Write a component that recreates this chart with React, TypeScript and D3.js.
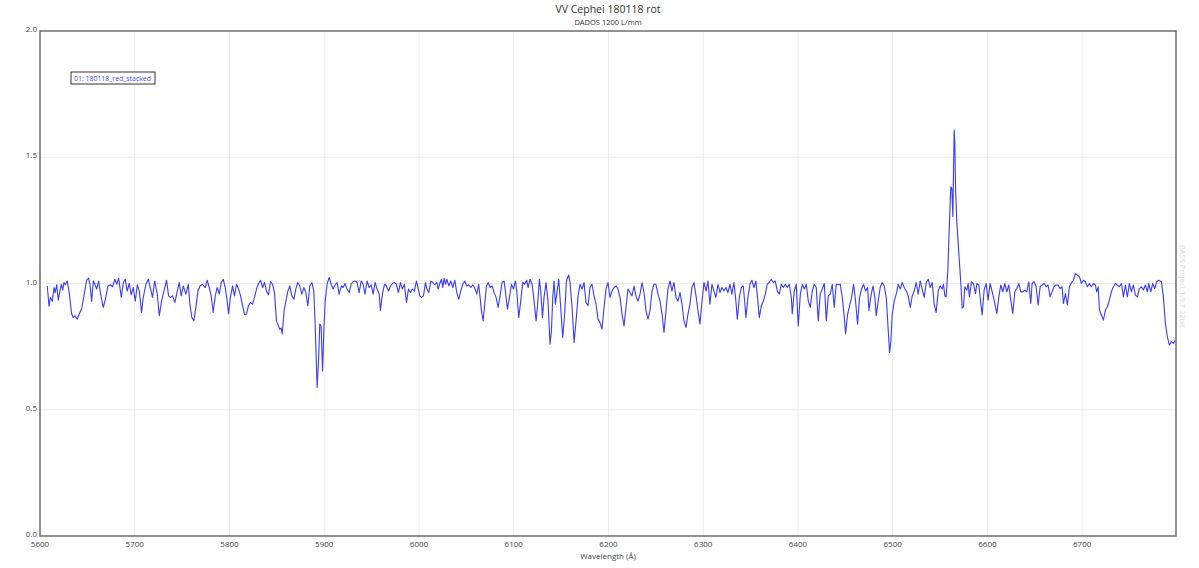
import * as d3 from 'd3';
import { useRef, useEffect } from 'react';

// spectrum: wavelength (Å) and relative flux
const wavelength: number[] = [
  5607.7, 5609.5, 5611, 5613, 5614.8, 5616, 5617.6, 5619.3, 5621, 5622.5, 5624, 5625.3, 5626.7, 5628.8, 5631, 5633.4, 5635, 5637, 5639.4, 5641.5,
  5644, 5646.4, 5649.2, 5651.3, 5652.7, 5654.5, 5656.3, 5658, 5659.8, 5661.9, 5664, 5666.8, 5669, 5671.7, 5674.5, 5676.6, 5679, 5681, 5683, 5684.4,
  5685.8, 5688, 5690, 5692, 5694.2, 5696.3, 5698.4, 5700.6, 5702.7, 5704.8, 5707.2, 5709, 5711.8, 5714.3, 5716, 5718.8, 5721, 5723.8, 5725.9, 5728.3,
  5730.8, 5733.6, 5735.7, 5737.8, 5740, 5742.4, 5744.9, 5747, 5749, 5751.2, 5754, 5756.5, 5758.2, 5760.3, 5762.4, 5764.5, 5766.7, 5768.8, 5771.6, 5774.4,
  5776.5, 5778.6, 5780.7, 5782.8, 5785, 5787, 5789.2, 5791.3, 5793.4, 5795.5, 5797.6, 5799, 5801, 5803.2, 5805.3, 5807.4, 5809.6, 5811.7, 5813.8, 5816,
  5818, 5820, 5822, 5824.3, 5826.4, 5828.5, 5830.6, 5832.8, 5835, 5837, 5839, 5841.2, 5843.3, 5845.4, 5847.5, 5849.6, 5851.7, 5853, 5854.6, 5855.6,
  5857.7, 5859.5, 5861.6, 5863.7, 5865.8, 5868, 5870, 5872, 5874.2, 5876.4, 5878.5, 5880.6, 5882.7, 5884.8, 5887, 5889, 5890.4, 5892.5, 5894, 5895.3,
  5896.7, 5898.2, 5899.6, 5901, 5903, 5905.2, 5907.3, 5909.4, 5911.5, 5913.6, 5915.7, 5918, 5920, 5922, 5924, 5926.3, 5928.4, 5930.5, 5932.6, 5934.7,
  5936.8, 5939, 5941, 5943, 5945.3, 5947.4, 5949.5, 5951.6, 5953.7, 5955.8, 5958, 5959.3, 5961.4, 5963.6, 5965.7, 5967.8, 5970, 5972, 5974, 5976.2,
  5978.3, 5980.4, 5982.5, 5984.6, 5986.8, 5988.9, 5991, 5993, 5995.2, 5997.3,
  6000.9, 6002.6, 6004.7, 6006.9, 6008.3, 6010.4, 6012.5, 6014.6, 6016.7, 6018.8, 6020.2, 6022.3, 6023.7, 6025.1, 6026.5, 6028, 6029.4, 6031.5, 6033.6, 6035.7,
  6037.8, 6039.9, 6042, 6044.1, 6046.2, 6048.3, 6050.4, 6052.6, 6054.7, 6056.8, 6058.9, 6061, 6063, 6064.5, 6065.9, 6067.7, 6069.4, 6071.2, 6073, 6075,
  6077.2, 6079.3, 6081.4, 6083.5, 6085.6, 6087.7, 6089.8, 6091.2, 6093.3, 6095.5, 6097.6, 6099.7, 6101.8, 6103.2, 6105.3, 6107.4, 6109.5, 6111.6, 6113.7, 6115.2,
  6117.3, 6119.4, 6121.5, 6123.6, 6125, 6127.1, 6128.5, 6130.3, 6132, 6134.1, 6136.2, 6138.3, 6139.8, 6141.2, 6142.6, 6144, 6145.4, 6147.5, 6149.6, 6151.7,
  6153.8, 6155.6, 6158, 6159.4, 6161.6, 6163.7, 6165.8, 6167.9, 6170, 6172.1, 6174.2, 6176.3, 6178.4, 6180.5, 6182.6, 6184.8, 6186.9, 6189, 6191, 6193.2,
  6195.3, 6197.4, 6199.5, 6201.6, 6203.7, 6205.9, 6208, 6210, 6212.2, 6214.3, 6216.4, 6218.5, 6220.6, 6222.7, 6224.8, 6227, 6229, 6231.2, 6233.3, 6235.4,
  6237.5, 6239.6, 6241.7, 6243.8, 6246, 6248, 6250, 6252.3, 6254.4, 6256.5, 6258.6, 6260.7, 6262.8, 6265, 6267, 6269.1, 6271.3, 6273.4, 6275.5, 6277.6,
  6279.7, 6281.8, 6283.9, 6286, 6288.1, 6290.3, 6292.4, 6294.5, 6296.6, 6298.7, 6300.8, 6303, 6305, 6307.1, 6309.2, 6311.3, 6313.4, 6315.6, 6317.7, 6319.8,
  6321.9, 6324, 6326, 6328.2, 6330.3, 6332.4, 6334.5, 6336, 6338.1, 6340.2, 6342.3, 6343.7, 6345.1, 6347.2, 6349.3, 6351.4, 6353.5, 6355.6, 6357.7, 6359.2,
  6361.3, 6363.4, 6365.5, 6367.6, 6369.6, 6371.8, 6374, 6376, 6378.2, 6380.3, 6382.4, 6384.5, 6386.6, 6388.7, 6390.8, 6393,
  6394, 6396.1, 6398.2, 6400.3, 6402.5, 6404.6, 6406.7, 6408.8, 6410.9, 6413, 6415.1, 6417.2, 6419.3, 6421.4, 6423.5, 6425.7, 6427.8, 6429.9, 6432, 6434.1,
  6436.2, 6438.3, 6440.4, 6442.5, 6444.6, 6446.8, 6448.9, 6450.3, 6452.4, 6454.5, 6456.6, 6458.7, 6460.8, 6462.9, 6465, 6467.1, 6469.2, 6471.4, 6473.5, 6474.9,
  6477, 6479.1, 6481.2, 6482.6, 6484.7, 6486.8, 6488.9, 6491, 6493.2, 6495.3, 6496.7, 6498.1, 6499.5, 6501.6, 6503.7, 6505.8, 6508, 6510, 6512.2, 6514.3,
  6516.4, 6518.5, 6520.6, 6522.7, 6524.8, 6526.9, 6529, 6531.1, 6533.2, 6535.4, 6537.5, 6539.6, 6541.7, 6543.8, 6545.9, 6548, 6550.1, 6552.2, 6553.6, 6555,
  6556.4, 6558.2, 6560, 6561.3, 6562.4, 6563.5, 6564.2, 6564.9, 6565.6, 6566.3, 6567.7, 6569.1, 6570.5, 6571.9, 6573.3, 6574.7, 6576.1, 6578.2, 6579.6, 6581,
  6583.1, 6585.2, 6587.4, 6588.8, 6590.9, 6593, 6594.4, 6596.5, 6598.6, 6600.7, 6602.8, 6605, 6607, 6609.9, 6612, 6614.1, 6616.2, 6618.3, 6620.4, 6622.5,
  6624.6, 6626.7, 6628.9, 6631, 6633.1, 6635.2, 6637.3, 6639.4, 6641.5, 6643.6, 6645.7, 6647.1, 6649.2, 6651.4, 6653.5, 6655.6, 6657.7, 6659.8, 6661.9, 6664,
  6666.1, 6668.2, 6670.3, 6672.4, 6674.6, 6676.7, 6678.8, 6680.2, 6682.3, 6684.4, 6686.5, 6688.6, 6690.7, 6692.8, 6694.9, 6697.1, 6699.2, 6701.3, 6703.4, 6705.5,
  6707.6, 6709.7, 6711.8, 6713.9, 6715.3, 6716.8, 6718.2, 6720.3, 6722.4, 6724.5, 6726.6, 6728.7, 6730.8, 6732.9, 6735, 6737.1, 6739.3, 6741.4, 6743.5, 6745.6,
  6747.7, 6749.8, 6751.9, 6754, 6756.1, 6758.2, 6760.3, 6762.5, 6764.6, 6766.7, 6768.8, 6770.2, 6772.3, 6774.4, 6776.5, 6778.6, 6780.7, 6783.6, 6785.7, 6787.8,
  6789.9, 6792, 6794.1, 6796.2, 6798.3,
];

const flux: number[] = [
  0.99, 0.91, 0.945, 0.93, 0.984, 0.964, 0.995, 0.934, 0.97, 0.997, 0.974, 1.004, 0.995, 1.01, 0.958, 0.88, 0.865, 0.872, 0.859, 0.88,
  0.90, 0.951, 1.013, 1.021, 0.997, 0.929, 1.01, 0.997, 0.978, 1.01, 0.958, 0.905, 0.938, 0.99, 0.995, 0.987, 1.017, 0.997, 1.021, 0.984,
  0.945, 1.004, 1.017, 0.97, 1.0, 0.955, 0.984, 0.93, 0.995, 0.97, 0.885, 0.945, 0.997, 1.017, 0.99, 0.945, 1.01, 0.958, 0.872, 0.93,
  0.97, 1.013, 0.951, 0.945, 0.951, 0.925, 0.97, 1.004, 0.951, 0.99, 0.958, 0.997, 0.918, 0.865, 0.852, 0.905, 0.97, 0.99, 0.997, 0.984,
  1.013, 0.984, 0.951, 0.885, 0.951, 0.984, 0.958, 1.004, 1.017, 0.984, 0.93, 0.879, 0.945, 0.99, 0.951, 0.997, 0.978, 0.951, 0.912, 0.876,
  0.879, 0.912, 0.925, 0.918, 0.945, 0.978, 1.0, 1.013, 0.984, 1.004, 0.97, 0.955, 1.008, 0.997, 0.964, 0.852, 0.832, 0.819, 0.823, 0.80,
  0.892, 0.93, 0.97, 0.99, 0.951, 0.938, 0.978, 1.004, 0.99, 0.958, 0.984, 0.964, 0.912, 0.99, 1.004, 0.97, 0.839, 0.588, 0.694, 0.839,
  0.832, 0.654, 0.813, 0.93, 0.997, 1.024, 0.997, 0.978, 0.995, 1.004, 0.958, 0.99, 0.984, 1.0, 0.978, 0.964, 0.997, 1.008, 1.01, 1.004,
  0.964, 1.01, 0.997, 0.958, 1.01, 0.984, 0.995, 0.958, 1.004, 0.978, 0.958, 0.892, 0.958, 0.997, 0.99, 0.97, 0.99, 1.0, 1.004, 0.997,
  0.964, 1.004, 0.978, 0.997, 0.925, 0.978, 0.964, 0.978, 0.97, 1.01,
  0.951, 0.945, 0.951, 1.004, 0.978, 0.964, 1.01, 1.004, 0.995, 1.004, 0.978, 1.004, 1.017, 0.984, 1.021, 0.997, 1.017, 0.99, 1.01, 0.984,
  1.013, 0.964, 0.938, 0.97, 0.997, 1.01, 0.99, 0.995, 0.984, 0.995, 0.982, 0.958, 0.997, 0.945, 0.892, 0.852, 0.918, 0.99, 1.004, 0.984,
  0.99, 0.964, 0.945, 0.905, 0.951, 1.004, 1.01, 0.97, 0.898, 0.945, 0.997, 0.978, 1.01, 0.97, 0.865, 0.93, 1.004, 0.997, 1.013, 0.984,
  1.017, 0.997, 0.93, 0.852, 0.905, 1.017, 0.97, 0.865, 0.945, 1.004, 0.93, 0.76, 0.813, 0.945, 1.01, 0.918, 0.958, 1.017, 0.905, 0.786,
  0.879, 1.01, 1.034, 1.004, 0.905, 0.766, 0.852, 0.951, 0.997, 0.978, 1.004, 0.925, 0.912, 0.984, 0.997, 0.951, 0.918, 0.859, 0.846, 0.819,
  0.905, 0.978, 1.004, 0.945, 0.97, 0.984, 0.99, 0.978, 0.945, 0.879, 0.832, 0.905, 0.978, 0.964, 0.951, 0.99, 0.951, 0.93, 0.958, 1.004,
  0.964, 0.892, 0.859, 0.892, 0.97, 0.997, 0.997, 0.958, 0.93, 0.879, 0.806, 0.892, 0.978, 1.01, 0.97, 1.004, 0.945, 0.93, 0.964, 0.918,
  0.852, 0.826, 0.879, 0.918, 0.984, 1.004, 0.951, 0.892, 0.839, 0.93, 1.004, 0.97, 1.01, 0.918, 0.997, 0.97, 0.945, 0.997, 0.964, 0.984,
  0.97, 0.984, 0.964, 0.997, 0.958, 1.004, 0.93, 0.859, 0.945, 0.984, 0.99, 0.93, 0.865, 0.945, 0.997, 1.013, 0.984, 1.01, 0.93, 0.865,
  0.912, 0.93, 0.958, 0.997, 1.004, 1.017, 1.004, 1.01, 0.97, 0.958, 0.997, 0.984, 0.997, 0.984, 0.997, 0.945,
  0.879, 0.97, 0.997, 0.832, 0.958, 0.997, 0.978, 0.997, 0.93, 0.905, 0.97, 0.997, 0.984, 0.852, 0.958, 0.978, 1.0, 0.852, 0.951, 0.958,
  0.997, 0.905, 0.997, 0.995, 0.997, 0.945, 0.865, 0.80, 0.879, 0.912, 0.945, 0.997, 0.93, 0.839, 0.945, 0.978, 0.997, 0.97, 0.984, 0.892,
  0.951, 0.99, 0.945, 0.872, 0.93, 0.984, 1.004, 0.99, 0.945, 0.813, 0.727, 0.773, 0.879, 0.93, 0.958, 0.997, 0.978, 1.004, 0.984, 0.97,
  0.951, 0.905, 0.951, 0.97, 1.004, 0.958, 1.01, 0.978, 0.945, 1.004, 1.017, 0.984, 1.004, 0.918, 0.885, 0.97, 0.99, 0.978, 0.997, 0.951,
  0.947, 1.053, 1.251, 1.383, 1.377, 1.265, 1.45, 1.608, 1.555, 1.383, 1.238, 1.159, 1.08, 1.0, 0.902, 0.908, 0.987, 0.974, 1.0, 0.947,
  1.007, 1.0, 0.96, 1.0, 0.994, 0.921, 0.875, 0.974, 1.0, 0.934, 1.0, 0.967, 0.934, 0.881, 0.947, 0.994, 0.967, 1.0, 0.967, 0.994,
  0.934, 0.881, 0.967, 0.98, 1.0, 0.967, 0.967, 0.974, 0.967, 1.007, 0.921, 1.0, 1.007, 0.987, 0.914, 0.987, 0.994, 1.0, 0.987, 0.994,
  0.947, 0.967, 0.987, 0.994, 0.994, 0.98, 0.987, 0.921, 0.96, 0.914, 0.987, 1.003, 1.013, 1.04, 1.033, 1.027, 1.0, 1.013, 1.007, 0.987,
  1.0, 0.987, 1.0, 0.994, 0.967, 0.987, 0.895, 0.875, 0.855, 0.895, 0.908, 0.934, 0.967, 0.987, 1.0, 0.994, 0.987, 1.0, 0.947, 0.994,
  0.947, 1.0, 0.967, 0.994, 0.954, 0.947, 0.98, 0.987, 0.974, 0.994, 0.967, 1.0, 0.967, 1.0, 0.98, 1.007, 1.013, 1.007, 0.947, 0.842,
  0.789, 0.756, 0.77, 0.763, 0.776,
];

const xTicks = [5600, 5700, 5800, 5900, 6000, 6100, 6200, 6300, 6400, 6500, 6600, 6700];
const yTicks = [0, 0.5, 1.0, 1.5, 2.0];
const seriesName = '01: 180118_red_stacked';

const W = 1199, H = 568;
const FONT = "'Open Sans', 'DejaVu Sans', sans-serif";

const App = () => {
  const ref = useRef<SVGSVGElement>(null);

  useEffect(() => {
    if (!ref.current) return;
    const root = d3.select(ref.current);
    root.selectAll('*').remove();

    const margin = { top: 31, right: 23, bottom: 32, left: 40 };
    const width = W - margin.left - margin.right;
    const height = H - margin.top - margin.bottom;

    root.append('rect').attr('width', W).attr('height', H).attr('fill', '#fff');

    const svg = root.append('g').attr('transform', `translate(${margin.left},${margin.top})`);

    const x = d3.scaleLinear().domain([5600, 6799]).range([0, width]);
    const y = d3.scaleLinear().domain([0, 2]).range([height, 0]);

    // grid
    svg.append('g').selectAll('line.gx')
      .data(xTicks.slice(1))
      .enter().append('line')
      .attr('x1', d => x(d)).attr('x2', d => x(d))
      .attr('y1', 0).attr('y2', height)
      .attr('stroke', '#ececec').attr('stroke-width', 1);
    svg.append('g').selectAll('line.gy')
      .data(yTicks.slice(1, -1))
      .enter().append('line')
      .attr('x1', 0).attr('x2', width)
      .attr('y1', d => y(d)).attr('y2', d => y(d))
      .attr('stroke', '#ececec').attr('stroke-width', 1);

    // spectrum
    const pts = wavelength.map((w, i) => [w, flux[i]] as [number, number]);
    const line = d3.line<[number, number]>().x(d => x(d[0])).y(d => y(d[1]));
    svg.append('path')
      .datum(pts)
      .attr('d', line)
      .attr('fill', 'none')
      .attr('stroke', '#3a3aff')
      .attr('stroke-width', 1.1)
      .attr('stroke-linejoin', 'round');

    // frame
    svg.append('rect')
      .attr('x', 0).attr('y', 0).attr('width', width).attr('height', height)
      .attr('fill', 'none').attr('stroke', '#6e6e6e').attr('stroke-width', 1.5);

    // tick labels
    svg.append('g').selectAll('text')
      .data(xTicks)
      .enter().append('text')
      .attr('x', d => x(d)).attr('y', height + 11)
      .attr('text-anchor', 'middle')
      .style('font-family', FONT).style('font-size', '8px').style('fill', '#444')
      .text(d => d);
    svg.append('g').selectAll('text')
      .data(yTicks)
      .enter().append('text')
      .attr('x', -3).attr('y', d => y(d) + 1)
      .attr('text-anchor', 'end')
      .style('font-family', FONT).style('font-size', '8px').style('fill', '#444')
      .text(d => d.toFixed(1));

    svg.append('text')
      .attr('x', width / 2).attr('y', height + 23)
      .attr('text-anchor', 'middle')
      .style('font-family', FONT).style('font-size', '8px').style('fill', '#444')
      .text('Wavelength (Å)');

    // titles
    root.append('text')
      .attr('x', 608).attr('y', 13)
      .attr('text-anchor', 'middle')
      .style('font-family', FONT).style('font-size', '10.5px').style('fill', '#333')
      .text('VV Cephei 180118 rot');
    root.append('text')
      .attr('x', 608).attr('y', 25)
      .attr('text-anchor', 'middle')
      .style('font-family', FONT).style('font-size', '7.5px').style('fill', '#333')
      .text('DADOS 1200 L/mm');

    // legend
    const lg = root.append('g').attr('transform', 'translate(71,72)');
    lg.append('rect').attr('width', 84).attr('height', 12)
      .attr('fill', '#fff').attr('stroke', '#333').attr('stroke-width', 1);
    lg.append('text').attr('x', 3).attr('y', 8.8)
      .attr('textLength', 77).attr('lengthAdjust', 'spacingAndGlyphs')
      .style('font-family', FONT).style('font-size', '7.5px').style('fill', '#4a4aff')
      .text(seriesName);

    // watermark
    root.append('text')
      .attr('transform', 'translate(1180,245) rotate(90)')
      .style('font-family', FONT).style('font-size', '7.5px').style('fill', '#d8d8d8')
      .text('BASS Project 1.9.7  32bit');
  }, []);

  return (
    <div style={{ position: 'fixed', left: 0, top: 0 }}>
      <svg ref={ref} width={W} height={H} style={{ display: 'block' }}></svg>
    </div>
  );
};

export default App;
